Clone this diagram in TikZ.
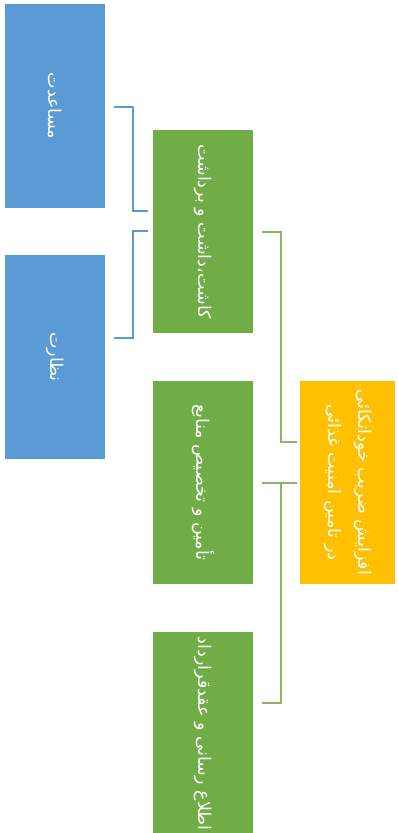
\documentclass[tikz,border=0pt]{standalone}
\usepackage{fontspec}
\newfontfamily\arabicfont[Script=Arabic]{DejaVu Sans}
\TeXXeTstate=1
\definecolor{boxblue}{HTML}{5B9BD5}
\definecolor{boxgreen}{HTML}{70AD47}
\definecolor{boxyellow}{HTML}{FFC000}
\tikzset{box/.style={draw=none,text=white,inner sep=0pt,
   font=\arabicfont\fontsize{10}{12}\selectfont},
 bluebox/.style={box,fill=boxblue,minimum width=2cm,minimum height=4.08cm},
 greenbox/.style={box,fill=boxgreen,minimum width=2cm,minimum height=4.06cm},
 rootbox/.style={box,fill=boxyellow,minimum width=1.9cm,minimum height=4.06cm},
 blueline/.style={draw=boxblue,line width=1.1pt},
 greenline/.style={draw=boxgreen!85!white,line width=1.1pt},
 }
\newcommand{\rtl}[1]{\rotatebox{-90}{\beginR #1\endR}}

\begin{document}
\begin{tikzpicture}[x=0.02cm,y=-0.02cm]
        \useasboundingbox (0,0) rectangle (397,833);
        \node[bluebox] (help) at (55,106) {\rtl{مساعدت}};
        \node[bluebox] (watch) at (55,357) {\rtl{نظارت}};

        \node[greenbox] (plant) at (203,231.5) {\rtl{کاشت،داشت و برداشت}};
        \node[greenbox] (fund) at (203,482.5) {\rtl{تأمین و تخصیص منابع}};
        \node[greenbox] (inform) at (203,733.5) {\rtl{اطلاع رسانی و عقدقرارداد}};

        \node[rootbox] (goal) at (347.5,482.5)
          {\rotatebox{-90}{\begin{tabular}{@{}c@{}}\beginR افزایش ضریب خوداتکائی\endR\\[5pt]
           \beginR در تامین امنیت غذائی\endR\end{tabular}}};

        % blue links
        \coordinate (helpout) at (114,107);
        \coordinate (plantin1) at (148,211);
        \coordinate (plantin2) at (148,231);
        \coordinate (watchout) at (114,338);
        \draw[blueline] (helpout) -- (133,107) -- (133,211) -- (plantin1);
        \draw[blueline] (plantin2) -- (133,231) -- (133,338) -- (watchout);

        % green links
        \coordinate (plantout) at (262,232);
        \coordinate (goalin1) at (297,442);
        \coordinate (goalin2) at (297,483);
        \coordinate (fundout) at (262,483);
        \coordinate (informout) at (262,703);
        \draw[greenline] (plantout) -- (281,232) -- (281,442) -- (goalin1);
        \draw[greenline] (goalin2) -- (fundout);
        \draw[greenline] (281,483) -- (281,703) -- (informout);
    \end{tikzpicture}
\end{document}
